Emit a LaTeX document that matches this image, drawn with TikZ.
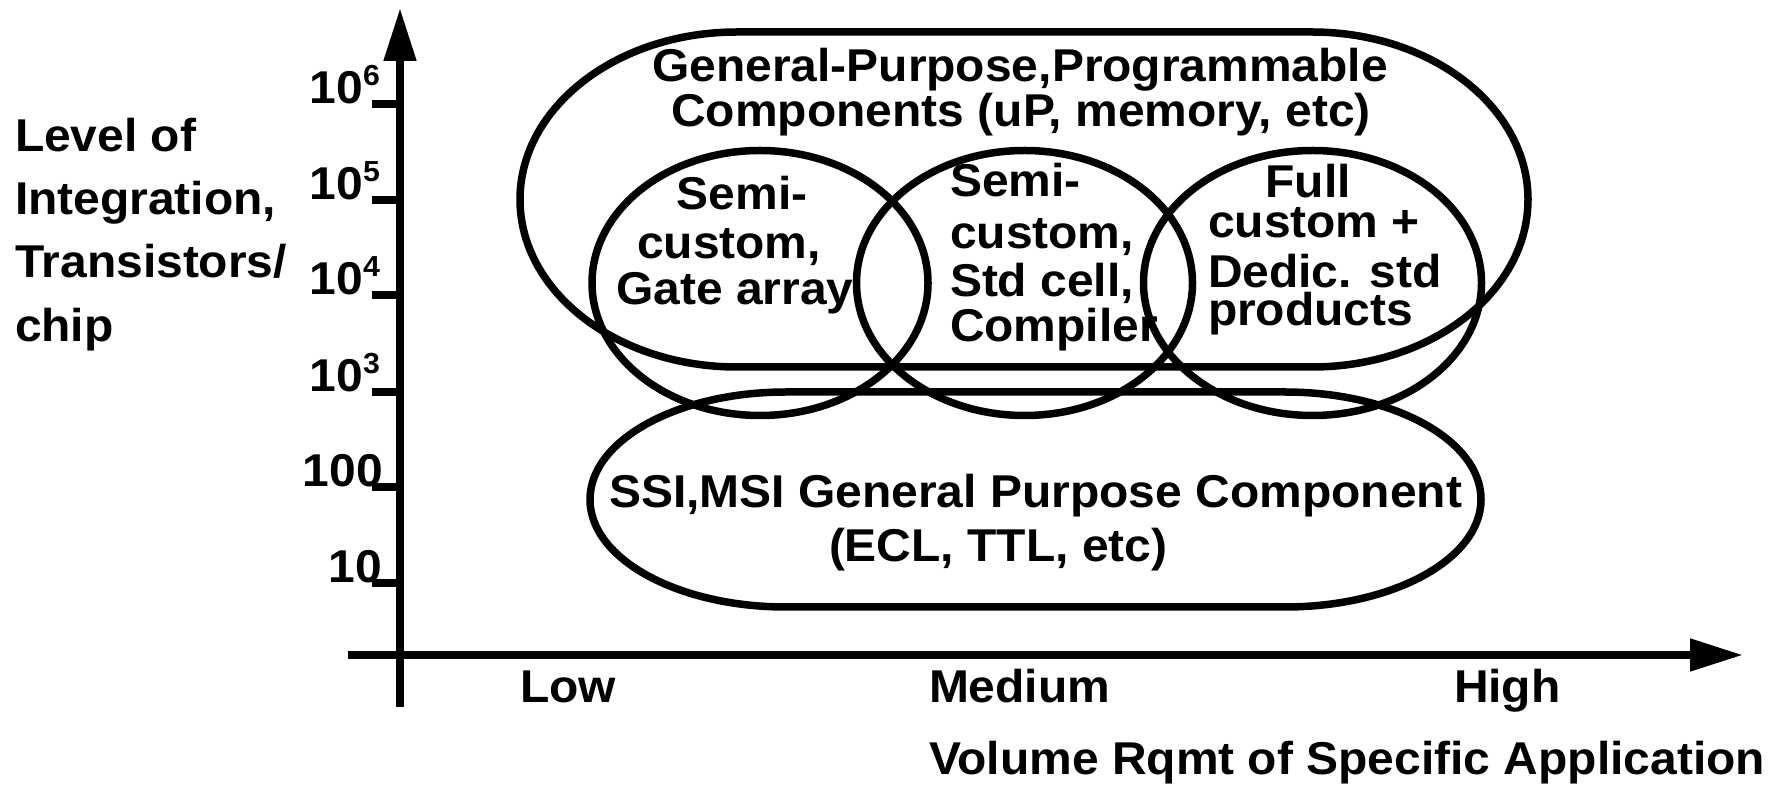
\documentclass[tikz,border=0pt]{standalone}
\usepackage{fontspec}
\setmainfont{Liberation Sans}[FakeStretch=1.043]
\usetikzlibrary{arrows.meta}
\newcommand{\tenpow}[1]{10\raisebox{18pt}{\fontsize{29}{29}\selectfont #1}}
\begin{document}
\begin{tikzpicture}[x=1pt,y=1pt,
  lbl/.style={font=\fontsize{46}{46}\selectfont\bfseries, inner sep=0pt, outer sep=0pt},
  outl/.style={draw=black, line width=7.5pt},
  axisline/.style={draw=black, line width=8pt, -{Triangle[length=53pt,width=31pt]}},
  tickline/.style={draw=black, line width=7.5pt}]
\useasboundingbox (0,0) rectangle (1777,795);

% axes
\coordinate (yb) at (400,88);
\coordinate (yt) at (400,787);
\coordinate (xl) at (348,140);
\coordinate (xr) at (1743,140);
\draw[axisline] (yb) -- (yt);
\draw[axisline] (xl) -- (xr);

% ticks
\foreach \ty in {691,595,500,403,308,212}
  \draw[tickline] (372,\ty) -- (400,\ty);

% tick labels
\node[lbl, anchor=base east] (t6) at (380,691) {\tenpow{6}};
\node[lbl, anchor=base east] (t5) at (380,595) {\tenpow{5}};
\node[lbl, anchor=base east] (t4) at (380,500) {\tenpow{4}};
\node[lbl, anchor=base east] (t3) at (380,403) {\tenpow{3}};
\node[lbl, anchor=base east] (t2) at (383,308) {100};
\node[lbl, anchor=base east] (t1) at (382,212) {10};

% y-axis title
\node[lbl, anchor=base west] (yl1) at (15,643) {Level of};
\node[lbl, anchor=base west] (yl2) at (15,580) {Integration,};
\node[lbl, anchor=base west] (yl3) at (15,517) {Transistors/};
\node[lbl, anchor=base west] (yl4) at (15,453) {chip};

% x-axis labels
\node[lbl, anchor=base west] (low) at (520,92) {Low};
\node[lbl, anchor=base west] (med) at (929,92) {Medium};
\node[lbl, anchor=base west] (high) at (1454,92) {High};
\node[lbl, anchor=base west] (xtitle) at (929,20) {Volume Rqmt of Specific Application};

% big top region
\draw[outl] (737,763) -- (1312,763)
  arc[start angle=90,end angle=-90,x radius=216,y radius=167.5]
  -- (737,428)
  arc[start angle=270,end angle=90,x radius=217,y radius=167.5] -- cycle;
\node[lbl, anchor=base] (gp1) at (1020,713) {General-Purpose,Programmable};
\node[lbl, anchor=base] (gp2) at (1021,668) {Components (uP, memory, etc)};

% SSI region
\draw[outl] (786,403) -- (1285,403)
  arc[start angle=90,end angle=-90,x radius=196,y radius=107.5]
  -- (786,188)
  arc[start angle=270,end angle=90,x radius=196,y radius=107.5] -- cycle;
\node[lbl, anchor=base west] (ssi1) at (609,287) {SSI,MSI General Purpose Component};
\node[lbl, anchor=base west] (ssi2) at (829,233) {(ECL, TTL, etc)};

% three ellipses
\draw[outl] (760,512) ellipse[x radius=168,y radius=132.5];
\draw[outl] (1024.5,512) ellipse[x radius=168,y radius=132.5];
\draw[outl] (1312.5,512) ellipse[x radius=169,y radius=132.5];

% left ellipse text
\node[lbl, anchor=base] (ga1) at (742,585) {Semi-};
\node[lbl, anchor=base] (ga2) at (729,536) {custom,};
\node[lbl, anchor=base] (ga3) at (735,490) {Gate array};

% middle ellipse text
\node[lbl, anchor=base west] (sc1) at (950,598) {Semi-};
\node[lbl, anchor=base west] (sc2) at (950,546) {custom,};
\node[lbl, anchor=base west] (sc3) at (950,498) {Std cell,};
\node[lbl, anchor=base west] (sc4) at (950,453) {Compiler};

% right ellipse text
\node[lbl, anchor=base] (fc1) at (1308,597) {Full};
\node[lbl, anchor=base west] (fc2) at (1208,557) {custom +};
\node[lbl, anchor=base west] (fc3) at (1208,507) {Dedic. std};
\node[lbl, anchor=base west] (fc4) at (1208,469) {products};
\end{tikzpicture}
\end{document}
